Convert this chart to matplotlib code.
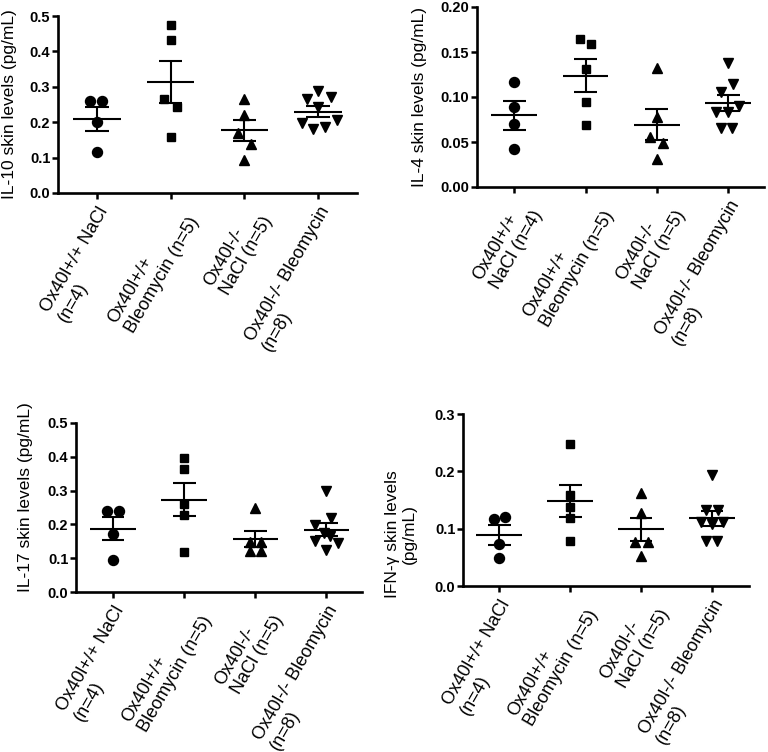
import matplotlib
matplotlib.use("Agg")
import matplotlib.pyplot as plt
import numpy as np

plt.rcParams['font.family'] = ['Liberation Sans', 'DejaVu Sans']

# ---- data ----
groups_a = ["Ox40l+/+ NaCl\n(n=4)", "Ox40l+/+\nBleomycin (n=5)",
            "Ox40l-/-\nNaCl (n=5)", "Ox40l-/- Bleomycin\n(n=8)"]
groups_b = ["Ox40l+/+\nNaCl (n=4)", "Ox40l+/+\nBleomycin (n=5)",
            "Ox40l-/-\nNaCl (n=5)", "Ox40l-/- Bleomycin\n(n=8)"]

il10 = [[0.26, 0.26, 0.20, 0.115],
        [0.474, 0.432, 0.265, 0.244, 0.158],
        [0.265, 0.220, 0.169, 0.139, 0.092],
        [0.289, 0.265, 0.270, 0.242, 0.198, 0.180, 0.187, 0.207]]
il4 = [[0.117, 0.089, 0.070, 0.042],
       [0.164, 0.159, 0.131, 0.095, 0.069],
       [0.132, 0.078, 0.056, 0.049, 0.031],
       [0.138, 0.115, 0.106, 0.090, 0.083, 0.083, 0.066, 0.066]]
il17 = [[0.241, 0.241, 0.173, 0.096],
        [0.396, 0.363, 0.260, 0.228, 0.119],
        [0.248, 0.147, 0.147, 0.122, 0.122],
        [0.300, 0.218, 0.197, 0.175, 0.165, 0.150, 0.145, 0.125]]
ifng = [[0.116, 0.121, 0.073, 0.048],
        [0.248, 0.159, 0.137, 0.118, 0.079],
        [0.162, 0.127, 0.076, 0.076, 0.053],
        [0.193, 0.133, 0.133, 0.111, 0.111, 0.108, 0.079, 0.079]]

# horizontal scatter offsets (styling only)
off_il10 = [[-0.09, 0.07, 0, 0], [0, 0, -0.09, 0.09, 0], [0, 0, -0.09, 0.09, 0],
            [0, -0.15, 0.18, 0, -0.22, -0.07, 0.09, 0.26]]
off_il4 = [[0, 0, 0, 0], [-0.08, 0.08, 0, 0, 0], [0, 0, -0.09, 0.08, 0],
           [0, 0.07, -0.1, 0.15, -0.17, 0, -0.1, 0.05]]
off_il17 = [[-0.08, 0.08, 0, 0], [0, 0, 0, 0, 0], [0, -0.08, 0.08, -0.08, 0.08],
            [0, 0.07, -0.16, -0.04, 0.05, -0.16, 0.16, 0]]
off_ifng = [[-0.08, 0.08, 0, 0], [0, 0, 0, 0, 0], [0, 0, -0.08, 0.09, 0],
            [0, -0.09, 0.09, -0.16, 0.16, 0, -0.09, 0.07]]

markers = ['o', 's', '^', 'v']
msizes = [7.2, 6.2, 7.0, 7.0]

W, H = 768, 752
fig = plt.figure(figsize=(W / 100, H / 100), dpi=100)


def ax_px(l, r, t, b):
    return fig.add_axes([l / W, 1 - b / H, (r - l) / W, (b - t) / H])


panels = [
    dict(box=(58, 357, 16, 193), data=il10, off=off_il10, labels=groups_a,
         ylim=0.5, step=0.1, fmt="{:.1f}", ylabel="IL-10 skin levels (pg/mL)",
         xlim=(-0.53, 3.53), lab=(-0.137, 0.5)),
    dict(box=(477, 764, 7, 187), data=il4, off=off_il4, labels=groups_b,
         ylim=0.2, step=0.05, fmt="{:.2f}", ylabel="IL-4 skin levels (pg/mL)",
         xlim=(-0.52, 3.5), lab=(-0.174, 0.5)),
    dict(box=(76, 362, 423, 592), data=il17, off=off_il17, labels=groups_a,
         ylim=0.5, step=0.1, fmt="{:.1f}", ylabel="IL-17 skin levels (pg/mL)",
         xlim=(-0.52, 3.5), lab=(-0.15, 0.56)),
    dict(box=(463, 749, 414, 586), data=ifng, off=off_ifng, labels=groups_a,
         ylim=0.3, step=0.1, fmt="{:.1f}", ylabel="IFN-γ skin levels\n(pg/mL)",
         xlim=(-0.51, 3.52), lab=(-0.161, 0.30)),
]

for p in panels:
    ax = ax_px(*p['box'])
    for i, vals in enumerate(p['data']):
        v = np.array(vals)
        x = i + np.array(p['off'][i])
        ax.plot(x, v, linestyle='none', marker=markers[i], ms=msizes[i],
                color='black', mec='black', zorder=3)
        m = v.mean()
        sem = v.std(ddof=1) / np.sqrt(len(v))
        ax.hlines(m, i - 0.32, i + 0.32, color='black', lw=1.5, zorder=4)
        ax.hlines([m - sem, m + sem], i - 0.16, i + 0.16, color='black', lw=1.5, zorder=4)
        ax.vlines(i, m - sem, m + sem, color='black', lw=1.5, zorder=4)
    ax.set_xlim(*p['xlim'])
    ax.set_ylim(0, p['ylim'])
    ticks = np.arange(0, p['ylim'] + 1e-9, p['step'])
    ax.set_yticks(ticks)
    ax.set_yticklabels([p['fmt'].format(t) for t in ticks], fontsize=10.5, fontweight='bold')
    ax.set_xticks(range(4))
    ax.set_xticklabels(p['labels'], fontsize=13, rotation=60, ha='right', va='top',
                       rotation_mode='anchor', multialignment='left')
    for s in ['top', 'right']:
        ax.spines[s].set_visible(False)
    for s in ['left', 'bottom']:
        ax.spines[s].set_linewidth(1.9)
    ax.tick_params(direction='out', length=4, width=1.8, pad=1.5)
    ax.tick_params(axis='x', pad=4)
    ax.set_ylabel(p['ylabel'], fontsize=12.5, multialignment='center')
    ax.yaxis.set_label_coords(*p['lab'])
    ax.patch.set_alpha(0)

fig.savefig("out.png", dpi=100)
